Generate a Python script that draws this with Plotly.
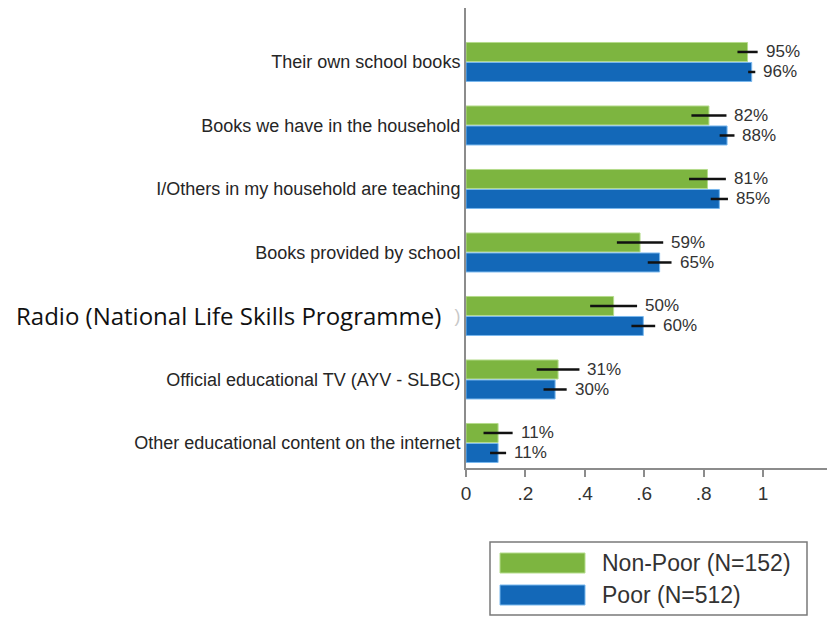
import plotly.graph_objects as go

categories = [
    "Their own school books",
    "Books we have in the household",
    "I/Others in my household are teaching",
    "Books provided by school",
    "Radio (National Life Skills Programme)",
    "Official educational TV (AYV - SLBC)",
    "Other educational content on the internet",
]
nonpoor = [0.948, 0.818, 0.813, 0.586, 0.497, 0.31, 0.108]
nonpoor_err = [0.034, 0.059, 0.062, 0.078, 0.079, 0.072, 0.049]
poor = [0.962, 0.879, 0.853, 0.652, 0.597, 0.30, 0.108]
poor_err = [0.012, 0.025, 0.029, 0.040, 0.040, 0.039, 0.027]
series_names = ["Non-Poor (N=152)", "Poor (N=512)"]
xtick_vals = [0, 0.2, 0.4, 0.6, 0.8, 1]
xtick_text = ["0", ".2", ".4", ".6", ".8", "1"]

GREEN = "#7db540"
BLUE = "#1368b8"
GREEN_EDGE = "#b5dc8c"
BLUE_EDGE = "#79b8ee"

W, H = 827, 617
L, R, T, B = 466, 0, 8, 149
pw, ph = W - L - R, H - T - B

def px(x):
    return (x - L) / pw

def py(y):
    return (H - B - y) / ph

fig = go.Figure()
fig.add_trace(go.Bar(
    y=categories, x=nonpoor, orientation="h", name=series_names[0],
    marker=dict(color=GREEN, line=dict(color=GREEN_EDGE, width=1)),
    error_x=dict(type="data", array=nonpoor_err, color="#111111", thickness=2.5, width=0),
    showlegend=False, hoverinfo="skip",
))
fig.add_trace(go.Bar(
    y=categories, x=poor, orientation="h", name=series_names[1],
    marker=dict(color=BLUE, line=dict(color=BLUE_EDGE, width=1)),
    error_x=dict(type="data", array=poor_err, color="#111111", thickness=2.5, width=0),
    showlegend=False, hoverinfo="skip",
))

# value labels after the error bars
for vals, errs, shift in [(nonpoor, nonpoor_err, 10), (poor, poor_err, -10)]:
    for c, v, e in zip(categories, vals, errs):
        fig.add_annotation(
            x=v + e, xref="x", y=c, yref="y", yshift=shift, xshift=6,
            text=f"{round(v*100)}%", showarrow=False, xanchor="left", yanchor="middle",
            font=dict(family="Liberation Sans, Arial", size=17, color="#333333"),
        )

ticktext = [c if not c.startswith("Radio") else '<span style="color:#c8c8c8">)</span>' for c in categories]

fig.update_layout(
    width=W, height=H,
    margin=dict(l=L, r=R, t=T, b=B, pad=0),
    paper_bgcolor="white", plot_bgcolor="white",
    barmode="group", bargap=0.37, bargroupgap=0.05,
    showlegend=False,
    xaxis=dict(
        range=[0, pw / 297.0], tickvals=xtick_vals, ticktext=xtick_text,
        showgrid=False, zeroline=False, showline=True, linecolor="#8c8c8c", linewidth=2,
        ticks="outside", ticklen=7, tickwidth=2, tickcolor="#8c8c8c",
        tickfont=dict(family="Liberation Sans, Arial", size=19, color="#333333"),
    ),
    yaxis=dict(
        type="category", categoryorder="array", categoryarray=categories,
        tickvals=categories, ticktext=ticktext,
        range=[-0.85 + ph / 63.5, -0.85],
        showgrid=False, zeroline=False, showline=True, linecolor="#8c8c8c", linewidth=2,
        ticks="", ticklabelstandoff=0,
        tickfont=dict(family="Liberation Sans, Arial", size=18, color="#262626"),
    ),
)

# Overlaid label for the Radio category
fig.add_annotation(
    x=px(443), xref="paper", y=categories[4], yref="y",
    text=categories[4], showarrow=False, xanchor="right", yanchor="middle",
    font=dict(family="Open Sans", size=24, color="#111111"),
)

# Manual legend
fig.add_shape(type="rect", xref="paper", yref="paper",
              x0=px(490), x1=px(807), y0=py(542), y1=py(615),
              line=dict(color="#7a7a7a", width=1.5), fillcolor="white")
for i, (name, col, edge) in enumerate([(series_names[0], GREEN, GREEN_EDGE), (series_names[1], BLUE, BLUE_EDGE)]):
    y0 = 553 + i * 32
    fig.add_shape(type="rect", xref="paper", yref="paper",
                  x0=px(500), x1=px(585), y0=py(y0), y1=py(y0 + 20),
                  line=dict(color=edge, width=1), fillcolor=col)
    fig.add_annotation(x=px(600), xref="paper", y=py(y0 + 10), yref="paper",
                       text=name, showarrow=False, xanchor="left", yanchor="middle",
                       font=dict(family="Liberation Sans, Arial", size=23, color="#333333"))

fig.write_html("out.html", config={"displayModeBar": False},
               post_script="document.body.style.margin='0';document.body.style.overflow='hidden';")
